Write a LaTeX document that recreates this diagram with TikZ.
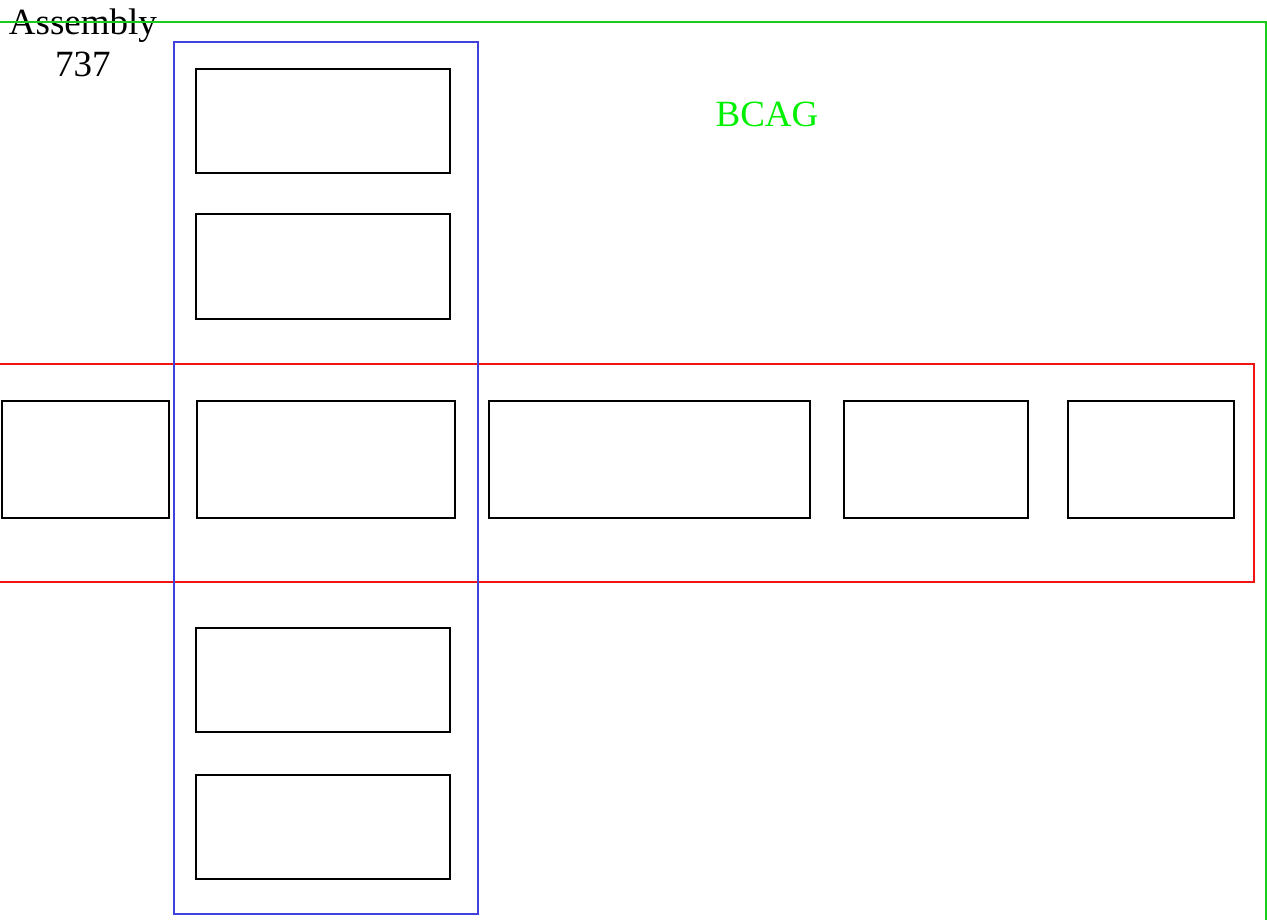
\documentclass[tikz,border=0pt]{standalone}
\usepackage{fontspec}
\setmainfont{Liberation Serif}
\definecolor{grn}{RGB}{24,204,24}
\definecolor{lgrn}{RGB}{0,240,0}
\definecolor{blu}{RGB}{64,64,224}
\definecolor{rd}{RGB}{240,20,20}
\begin{document}
\begin{tikzpicture}[x=1pt,y=-1pt,
  part/.style={draw=black,line width=1.8pt,inner sep=0pt,minimum width=0pt},
  grp/.style={line width=1.6pt}]
\useasboundingbox (0,0) rectangle (1267,920);
% labels
\node[align=center,inner sep=0pt,font=\fontsize{37}{42}\selectfont,anchor=north] (asm) at (83,9) {Assembly\\737};
\node[inner sep=0pt,text=lgrn,font=\fontsize{37}{42}\selectfont,anchor=base] (bcag) at (767,127) {BCAG};
% green assembly frame
\coordinate (g1) at (-20,22);
\coordinate (g2) at (1266,22);
\coordinate (g3) at (1266,940);
\draw[grp,draw=grn] (g1) -- (g2) -- (g3);
% red row group
\draw[grp,draw=rd] (-20,364) rectangle (1254,582);
% blue column group
\draw[grp,draw=blu] (174,42) rectangle (478,914);
% parts
\draw[part] (196,69) rectangle (450,173);
\draw[part] (196,214) rectangle (450,319);
\draw[part] (196,628) rectangle (450,732);
\draw[part] (196,775) rectangle (450,879);
\draw[part] (2,401) rectangle (169,518);
\draw[part] (197,401) rectangle (455,518);
\draw[part] (489,401) rectangle (810,518);
\draw[part] (844,401) rectangle (1028,518);
\draw[part] (1068,401) rectangle (1234,518);
\end{tikzpicture}
\end{document}
